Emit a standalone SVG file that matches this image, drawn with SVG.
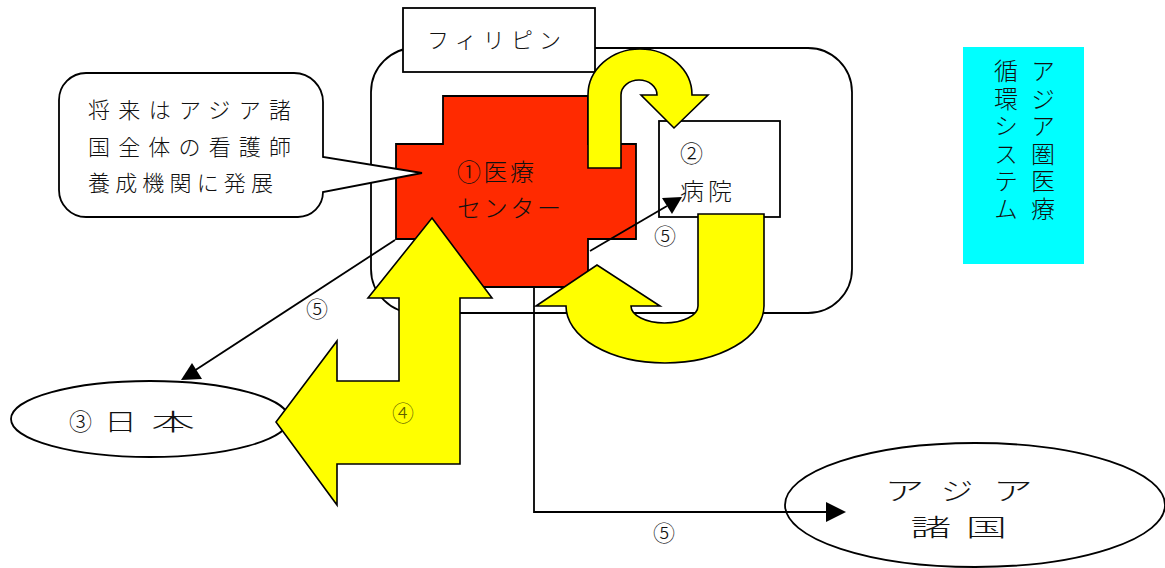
<svg xmlns="http://www.w3.org/2000/svg" width="1165" height="568" viewBox="0 0 1165 568">
<style>
.ln{fill:none;stroke:#000;stroke-width:1.8}
.box{fill:#fff;stroke:#000;stroke-width:1.8}
.yel{fill:#FFFF00;stroke:#000;stroke-width:1.6;stroke-linejoin:miter}
.head{fill:#000;stroke:none}
.t{font-family:"Noto Sans CJK JP","Noto Sans CJK SC",sans-serif;fill:#111;font-weight:300}
.c5{font-size:22px;text-anchor:middle}
.mid{text-anchor:middle}
.vt{writing-mode:vertical-rl;letter-spacing:3.5px}
</style>
<rect width="1165" height="568" fill="#fff"/>
<g id="philippines">
<rect x="371" y="48" width="481" height="265" rx="44" ry="44" class="box"/>
</g>
<g id="philippines-label">
<rect x="403" y="8" width="192" height="64" class="box"/>
<text x="427" y="48" class="t" font-size="22" textLength="134" lengthAdjust="spacing">フィリピン</text>
</g>
<g id="medical-center">
<polygon points="443,96 588,96 588,144 636,144 636,239 588,239 588,287 443,287 443,239 396,239 396,144 443,144" fill="#FF2A00" stroke="#000" stroke-width="1.8"/>
<text x="457" y="181" class="t" font-size="24" textLength="77" lengthAdjust="spacing">①医療</text>
<text x="457" y="217" class="t" font-size="24" textLength="104" lengthAdjust="spacing">センター</text>
</g>
<g id="hospital">
<rect x="659" y="121" width="121" height="96" class="box"/>
<text x="680" y="162" class="t" font-size="23">②</text>
<text x="680" y="200" class="t" font-size="24" textLength="52" lengthAdjust="spacing">病院</text>
</g>
<g id="japan">
<ellipse cx="150" cy="419" rx="139" ry="38" class="box"/>
<text x="80.5" y="430" class="t mid" font-size="23">③</text>
<text class="t mid" font-size="23" transform="translate(120.5,430) scale(1.45,1)">日</text>
<text class="t mid" font-size="23" transform="translate(173,430) scale(1.9,1)">本</text>
</g>
<g id="asia">
<ellipse cx="975" cy="505" rx="190" ry="62" class="box"/>
<text class="t mid" font-size="25" transform="translate(904.5,500) scale(1.6,1)">ア</text>
<text class="t mid" font-size="25" transform="translate(957,500) scale(1.3,1)">ジ</text>
<text class="t mid" font-size="25" transform="translate(1013,500) scale(1.6,1)">ア</text>
<text class="t mid" font-size="24" transform="translate(931,536) scale(1.7,1)">諸</text>
<text class="t mid" font-size="24" transform="translate(986.5,536) scale(1.7,1)">国</text>
</g>
<g id="system-label">
<rect x="963" y="47" width="121" height="217" fill="#00FFFF"/>
<text x="1043" y="59" class="t vt" font-size="24">アジア圏医療</text>
<text x="1006" y="59" class="t vt" font-size="24">循環システム</text>
</g>
<g id="callout">
<path d="M86,73 L294,73 A29,29 0 0 1 323,102 L323,157 L422,173 L323,192 A25,25 0 0 1 298,217 L86,217 A27,27 0 0 1 59,190 L59,100 A27,27 0 0 1 86,73 Z" class="box"/>
<text x="88" y="118" class="t" font-size="22" textLength="203" lengthAdjust="spacing">将来はアジア諸</text>
<text x="88" y="155" class="t" font-size="22" textLength="203" lengthAdjust="spacing">国全体の看護師</text>
<text x="88" y="191" class="t" font-size="22" textLength="185" lengthAdjust="spacing">養成機関に発展</text>
</g>
<g id="connectors">
<path class="yel" d="M588,168 L588,95 A52,46 0 0 1 692,95 L708,95 L674,128 L641,95 L657,95 A18,15 0 0 0 621,95 L621,168 Z"/>
<path class="yel" d="M698,214 L764,214 L764,306 A99,57 0 0 1 566,306 L536,306 L597,265 L660,306 L631,306 A33.5,17 0 0 0 698,306 Z"/>
<path class="yel" d="M432,218 L492,298 L460,298 L460,464 L337,464 L337,505 L276,422 L337,341 L337,381 L399,381 L399,298 L368,298 Z"/>
<text x="403" y="421" class="t c5" style="fill:#5f5f00">④</text>
<line x1="395" y1="240" x2="194" y2="371" class="ln"/>
<polygon points="192,363 181,380 202,379" class="head"/>
<text x="317" y="317" class="t c5">⑤</text>
<line x1="590" y1="251" x2="667" y2="206" class="ln"/>
<polygon points="662,198 682,197 672,214" class="head"/>
<text x="665" y="244" class="t c5">⑤</text>
<polyline points="534,287 534,512 828,512" class="ln"/>
<polygon points="826,502 846,512 826,522" class="head"/>
<text x="664" y="541" class="t c5">⑤</text>
</g>
</svg>
